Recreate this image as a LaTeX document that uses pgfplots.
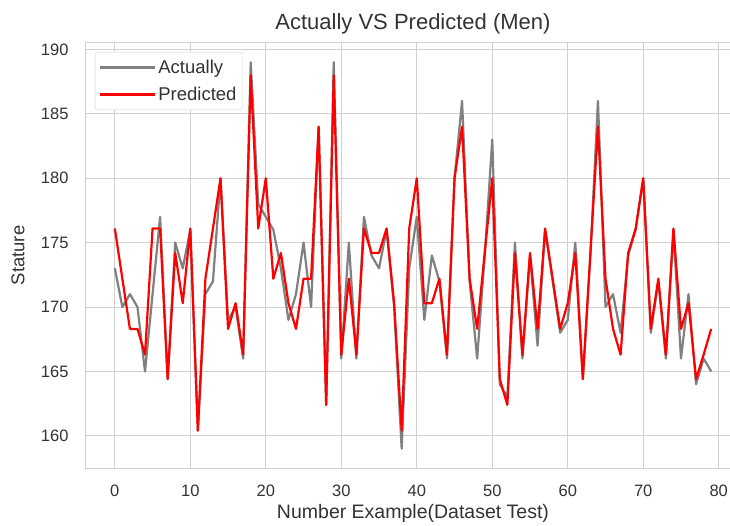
\documentclass[border=0pt]{standalone}
\usepackage{pgfplots}
\pgfplotsset{compat=1.18}
\usepackage{fontspec}
\setmainfont{Liberation Sans}
\definecolor{gridc}{HTML}{D0D0D0}
\definecolor{txt}{HTML}{333333}
\definecolor{actc}{HTML}{808080}
\definecolor{predc}{HTML}{FF0000}
\pgfplotstableread{
x act pred
0 173 176.1
1 170 172.2
2 171 168.3
3 170 168.3
4 165 166.3
5 171 176.1
6 177 176.1
7 164.4 164.4
8 175 174.2
9 173 170.3
10 176 176.1
11 160.4 160.4
12 171 172.2
13 172 176.1
14 180 180.0
15 169 168.3
16 170 170.3
17 166 166.3
18 189 188.0
19 178 176.1
20 177 180.0
21 176 172.2
22 173 174.2
23 169 170.3
24 171 168.3
25 175 172.2
26 170 172.2
27 184 184.0
28 162.4 162.4
29 189 188.0
30 166 166.3
31 175 172.2
32 166 166.3
33 177 176.1
34 174 174.2
35 173 174.2
36 176 176.1
37 170 170.3
38 159 160.4
39 173 176.1
40 177 180.0
41 169 170.3
42 174 170.3
43 172 172.2
44 166 166.3
45 180 180.0
46 186 184.0
47 172 172.2
48 166 168.3
49 174 174.2
50 183 180.0
51 164 164.4
52 163 162.4
53 175 174.2
54 166 166.3
55 174 174.2
56 167 168.3
57 176 176.1
58 172 172.2
59 168 168.3
60 169 170.3
61 175 174.2
62 164.4 164.4
63 174 174.2
64 186 184.0
65 170 172.2
66 171 168.3
67 168 166.3
68 174 174.2
69 176 176.1
70 180 180.0
71 168 168.3
72 172 172.2
73 166 166.3
74 176 176.1
75 166 168.3
76 171 170.3
77 164 164.4
78 166 166.3
79 165 168.3
}\datatable
\begin{document}
\begin{tikzpicture}
\useasboundingbox (0,0) rectangle (730pt,525pt);
\begin{axis}[
  at={(85pt,57pt)}, anchor=south west,
  width=656pt, height=425pt, scale only axis,
  xmin=-3.95, xmax=82.95, ymin=157.5, ymax=190.5,
  xtick={0,10,...,80}, ytick={160,165,...,190},
  grid=major,
  major grid style={draw=gridc, line width=1pt},
  axis line style={draw=gridc, line width=1pt},
  major tick length=0pt,
  /pgf/number format/assume math mode=true,
  ticklabel style={font=\fontsize{16.5}{19}\selectfont, text=txt},
  xticklabel style={yshift=-13pt},
  yticklabel style={xshift=-13pt},
  xlabel={Number Example(Dataset Test)},
  ylabel={Stature},
  xlabel style={font=\fontsize{19.5}{22}\selectfont, text=txt,
    at={([yshift=-45pt]axis description cs:0.5,0)}, anchor=center},
  ylabel style={font=\fontsize{18.5}{21}\selectfont, text=txt,
    at={([xshift=-67pt]axis description cs:0,0.5)}, anchor=center, rotate=0},
  title={Actually VS Predicted (Men)},
  title style={font=\fontsize{22}{25}\selectfont, text=txt,
    at={([yshift=13pt]axis description cs:0.5,1)}, anchor=center},
  legend cell align=left,
  legend style={at={(0.0152,0.979)}, anchor=north west, draw=gridc, fill=white,
    rounded corners=3pt, font=\fontsize{18.5}{21}\selectfont, text=txt,
    inner xsep=4pt, inner ysep=6pt, row sep=8pt},
  legend image code/.code={\draw[#1, line width=2.2pt] (0pt,0pt) -- (42pt,0pt); \path (0pt,0pt) -- (55pt,0pt);},
]
\addplot[actc, line width=2.2pt, line join=round] table[x=x, y=act] {\datatable};
\addlegendentry{Actually}
\addplot[predc, line width=2.2pt, line join=round] table[x=x, y=pred] {\datatable};
\addlegendentry{Predicted}
\end{axis}
\end{tikzpicture}
\end{document}
